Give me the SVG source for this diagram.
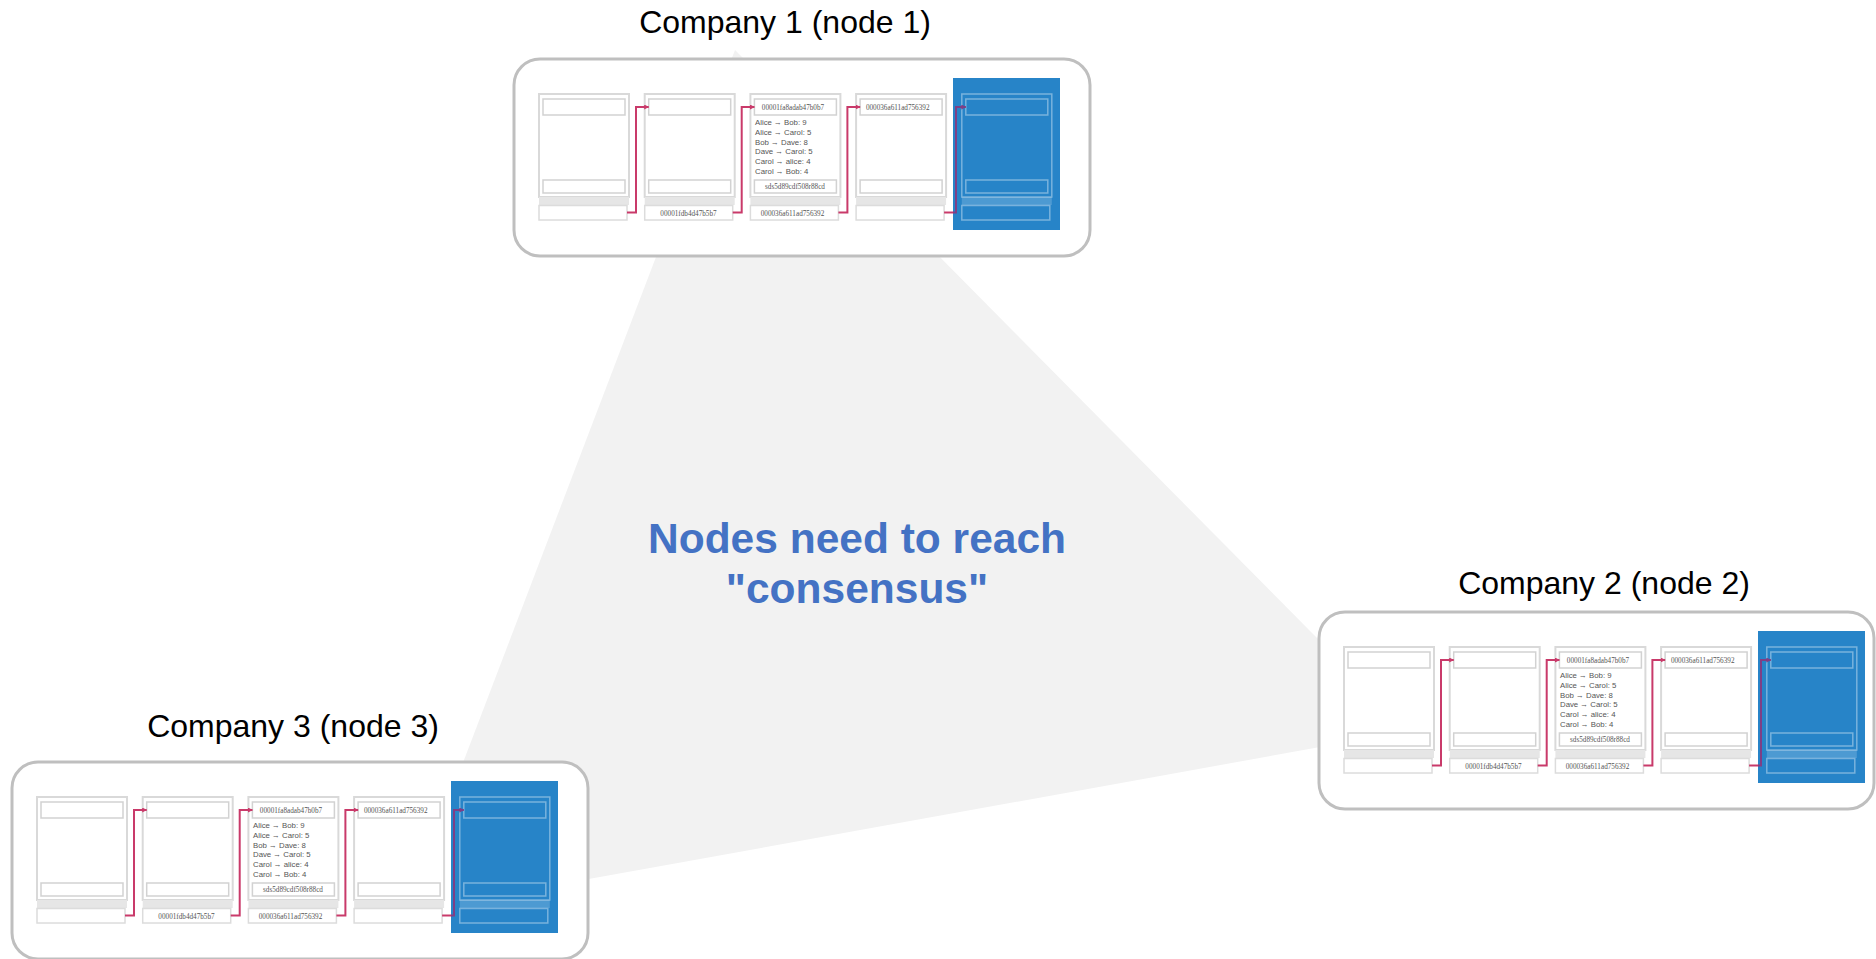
<svg xmlns="http://www.w3.org/2000/svg" width="1876" height="959" viewBox="0 0 1876 959">
<style>
.box{fill:#fff;stroke:#bfbfbf;stroke-width:3}
.card{fill:#fff;stroke:#d9d9d9;stroke-width:2}
.fld{fill:#fff;stroke:#d2d2d2;stroke-width:1.5}
.band{fill:#e6e6e6}
.foot{fill:#fff;stroke:#dcdcdc;stroke-width:1.5}
.blue{fill:#2784c8}
.bo{fill:none;stroke:#fff;stroke-opacity:.38;stroke-width:1.5}
.bband{fill:#fff;fill-opacity:.18}
.conn{fill:none;stroke:#c93a6a;stroke-width:2}
.connb{fill:none;stroke:#7e3f86;stroke-width:2}
.hash{font-family:"Liberation Serif",serif;font-size:7.2px;fill:#555;text-anchor:middle}
.tx{font-family:"Liberation Sans",Arial,sans-serif;font-size:7.8px;fill:#555}
.title{font-family:"Liberation Sans",Arial,sans-serif;font-size:32px;fill:#000;text-anchor:middle}
.cons{font-family:"Liberation Sans",Arial,sans-serif;font-size:42.5px;font-weight:bold;fill:#4472c4;text-anchor:middle}
</style>
<defs>
<marker id="ah" viewBox="0 0 10 10" refX="9" refY="5" markerWidth="5" markerHeight="5" orient="auto" markerUnits="userSpaceOnUse"><path d="M0,0L10,5L0,10z" fill="#c93a6a"/></marker>
<marker id="ahb" viewBox="0 0 10 10" refX="9" refY="5" markerWidth="5" markerHeight="5" orient="auto" markerUnits="userSpaceOnUse"><path d="M0,0L10,5L0,10z" fill="#7e3f86"/></marker>
</defs>
<rect width="1876" height="959" fill="#fff"/>
<polygon id="consensus-area" points="735,50 1409,731 406,912" fill="#f2f2f2"/>
<g id="label-consensus">
<text class="cons" x="857" y="553">Nodes need to reach</text>
<text class="cons" x="857" y="603">"consensus"</text>
</g>

<g id="node1">
<text class="title" x="785" y="33">Company 1 (node 1)</text>
<g transform="translate(514,59)">
<rect class="box" x="0" y="0" width="576" height="197" rx="26"/>
<rect class="card" x="25" y="35" width="90" height="103"/><rect class="fld" x="29" y="40" width="82" height="16"/><rect class="fld" x="29" y="121" width="82" height="13"/><rect class="band" x="25" y="138" width="90" height="8"/><rect class="foot" x="25" y="146.5" width="88" height="14.5"/>
<rect class="card" x="130.7" y="35" width="90" height="103"/><rect class="fld" x="134.7" y="40" width="82" height="16"/><rect class="fld" x="134.7" y="121" width="82" height="13"/><rect class="band" x="130.7" y="138" width="90" height="8"/><rect class="foot" x="130.7" y="146.5" width="88" height="14.5"/>
<text class="hash" x="174.5" y="156.5">00001fdb4d47b5b7</text>
<rect class="card" x="236.4" y="35" width="90" height="103"/><rect class="fld" x="240.4" y="40" width="82" height="16"/><rect class="fld" x="240.4" y="121" width="82" height="13"/><rect class="band" x="236.4" y="138" width="90" height="8"/><rect class="foot" x="236.4" y="146.5" width="88" height="14.5"/>
<text class="hash" x="279" y="51">00001fa8adab47b0b7</text>
<text class="tx" x="241" y="66">Alice → Bob: 9</text>
<text class="tx" x="241" y="75.8">Alice → Carol: 5</text>
<text class="tx" x="241" y="85.6">Bob → Dave: 8</text>
<text class="tx" x="241" y="95.4">Dave → Carol: 5</text>
<text class="tx" x="241" y="105.2">Carol → alice: 4</text>
<text class="tx" x="241" y="115">Carol → Bob: 4</text>
<text class="hash" x="281" y="130">sds5d89cdf508r88cd</text>
<text class="hash" x="278.5" y="156.5">000036a611ad756392</text>
<rect class="card" x="342.1" y="35" width="90" height="103"/><rect class="fld" x="346.1" y="40" width="82" height="16"/><rect class="fld" x="346.1" y="121" width="82" height="13"/><rect class="band" x="342.1" y="138" width="90" height="8"/><rect class="foot" x="342.1" y="146.5" width="88" height="14.5"/>
<text class="hash" x="383.7" y="51">000036a611ad756392</text>
<rect class="blue" x="439" y="19" width="107" height="152"/>
<rect class="bo" x="447.8" y="35" width="90" height="103"/><rect class="bo" x="451.8" y="40" width="82" height="16"/><rect class="bo" x="451.8" y="121" width="82" height="13"/><rect class="bband" x="447.8" y="138" width="90" height="8"/><rect class="bo" x="447.8" y="146.5" width="88" height="14.5"/>
</g>
</g>

<g id="node2">
<text class="title" x="1604" y="594">Company 2 (node 2)</text>
<g transform="translate(1319,612)">
<rect class="box" x="0" y="0" width="555" height="197" rx="26"/>
<rect class="card" x="25" y="35" width="90" height="103"/><rect class="fld" x="29" y="40" width="82" height="16"/><rect class="fld" x="29" y="121" width="82" height="13"/><rect class="band" x="25" y="138" width="90" height="8"/><rect class="foot" x="25" y="146.5" width="88" height="14.5"/>
<rect class="card" x="130.7" y="35" width="90" height="103"/><rect class="fld" x="134.7" y="40" width="82" height="16"/><rect class="fld" x="134.7" y="121" width="82" height="13"/><rect class="band" x="130.7" y="138" width="90" height="8"/><rect class="foot" x="130.7" y="146.5" width="88" height="14.5"/>
<text class="hash" x="174.5" y="156.5">00001fdb4d47b5b7</text>
<rect class="card" x="236.4" y="35" width="90" height="103"/><rect class="fld" x="240.4" y="40" width="82" height="16"/><rect class="fld" x="240.4" y="121" width="82" height="13"/><rect class="band" x="236.4" y="138" width="90" height="8"/><rect class="foot" x="236.4" y="146.5" width="88" height="14.5"/>
<text class="hash" x="279" y="51">00001fa8adab47b0b7</text>
<text class="tx" x="241" y="66">Alice → Bob: 9</text>
<text class="tx" x="241" y="75.8">Alice → Carol: 5</text>
<text class="tx" x="241" y="85.6">Bob → Dave: 8</text>
<text class="tx" x="241" y="95.4">Dave → Carol: 5</text>
<text class="tx" x="241" y="105.2">Carol → alice: 4</text>
<text class="tx" x="241" y="115">Carol → Bob: 4</text>
<text class="hash" x="281" y="130">sds5d89cdf508r88cd</text>
<text class="hash" x="278.5" y="156.5">000036a611ad756392</text>
<rect class="card" x="342.1" y="35" width="90" height="103"/><rect class="fld" x="346.1" y="40" width="82" height="16"/><rect class="fld" x="346.1" y="121" width="82" height="13"/><rect class="band" x="342.1" y="138" width="90" height="8"/><rect class="foot" x="342.1" y="146.5" width="88" height="14.5"/>
<text class="hash" x="383.7" y="51">000036a611ad756392</text>
<rect class="blue" x="439" y="19" width="107" height="152"/>
<rect class="bo" x="447.8" y="35" width="90" height="103"/><rect class="bo" x="451.8" y="40" width="82" height="16"/><rect class="bo" x="451.8" y="121" width="82" height="13"/><rect class="bband" x="447.8" y="138" width="90" height="8"/><rect class="bo" x="447.8" y="146.5" width="88" height="14.5"/>
</g>
</g>

<g id="node3">
<text class="title" x="293" y="737">Company 3 (node 3)</text>
<g transform="translate(12,762)">
<rect class="box" x="0" y="0" width="576" height="197" rx="26"/>
<rect class="card" x="25" y="35" width="90" height="103"/><rect class="fld" x="29" y="40" width="82" height="16"/><rect class="fld" x="29" y="121" width="82" height="13"/><rect class="band" x="25" y="138" width="90" height="8"/><rect class="foot" x="25" y="146.5" width="88" height="14.5"/>
<rect class="card" x="130.7" y="35" width="90" height="103"/><rect class="fld" x="134.7" y="40" width="82" height="16"/><rect class="fld" x="134.7" y="121" width="82" height="13"/><rect class="band" x="130.7" y="138" width="90" height="8"/><rect class="foot" x="130.7" y="146.5" width="88" height="14.5"/>
<text class="hash" x="174.5" y="156.5">00001fdb4d47b5b7</text>
<rect class="card" x="236.4" y="35" width="90" height="103"/><rect class="fld" x="240.4" y="40" width="82" height="16"/><rect class="fld" x="240.4" y="121" width="82" height="13"/><rect class="band" x="236.4" y="138" width="90" height="8"/><rect class="foot" x="236.4" y="146.5" width="88" height="14.5"/>
<text class="hash" x="279" y="51">00001fa8adab47b0b7</text>
<text class="tx" x="241" y="66">Alice → Bob: 9</text>
<text class="tx" x="241" y="75.8">Alice → Carol: 5</text>
<text class="tx" x="241" y="85.6">Bob → Dave: 8</text>
<text class="tx" x="241" y="95.4">Dave → Carol: 5</text>
<text class="tx" x="241" y="105.2">Carol → alice: 4</text>
<text class="tx" x="241" y="115">Carol → Bob: 4</text>
<text class="hash" x="281" y="130">sds5d89cdf508r88cd</text>
<text class="hash" x="278.5" y="156.5">000036a611ad756392</text>
<rect class="card" x="342.1" y="35" width="90" height="103"/><rect class="fld" x="346.1" y="40" width="82" height="16"/><rect class="fld" x="346.1" y="121" width="82" height="13"/><rect class="band" x="342.1" y="138" width="90" height="8"/><rect class="foot" x="342.1" y="146.5" width="88" height="14.5"/>
<text class="hash" x="383.7" y="51">000036a611ad756392</text>
<rect class="blue" x="439" y="19" width="107" height="152"/>
<rect class="bo" x="447.8" y="35" width="90" height="103"/><rect class="bo" x="451.8" y="40" width="82" height="16"/><rect class="bo" x="451.8" y="121" width="82" height="13"/><rect class="bband" x="447.8" y="138" width="90" height="8"/><rect class="bo" x="447.8" y="146.5" width="88" height="14.5"/>
</g>
</g>

<g id="connectors">
<g transform="translate(514,59)">
<path class="conn" d="M113,153.5H122V48H134.7" marker-end="url(#ah)"/>
<path class="conn" d="M218.7,153.5H227.7V48H240.4" marker-end="url(#ah)"/>
<path class="conn" d="M324.4,153.5H333.4V48H346.1" marker-end="url(#ah)"/>
<path class="conn" d="M430.1,153.5H439.5"/>
<path class="connb" d="M439,153.5H442V48H451.8" marker-end="url(#ahb)"/>
</g>
<g transform="translate(1319,612)">
<path class="conn" d="M113,153.5H122V48H134.7" marker-end="url(#ah)"/>
<path class="conn" d="M218.7,153.5H227.7V48H240.4" marker-end="url(#ah)"/>
<path class="conn" d="M324.4,153.5H333.4V48H346.1" marker-end="url(#ah)"/>
<path class="conn" d="M430.1,153.5H439.5"/>
<path class="connb" d="M439,153.5H442V48H451.8" marker-end="url(#ahb)"/>
</g>
<g transform="translate(12,762)">
<path class="conn" d="M113,153.5H122V48H134.7" marker-end="url(#ah)"/>
<path class="conn" d="M218.7,153.5H227.7V48H240.4" marker-end="url(#ah)"/>
<path class="conn" d="M324.4,153.5H333.4V48H346.1" marker-end="url(#ah)"/>
<path class="conn" d="M430.1,153.5H439.5"/>
<path class="connb" d="M439,153.5H442V48H451.8" marker-end="url(#ahb)"/>
</g>
</g>
</svg>
